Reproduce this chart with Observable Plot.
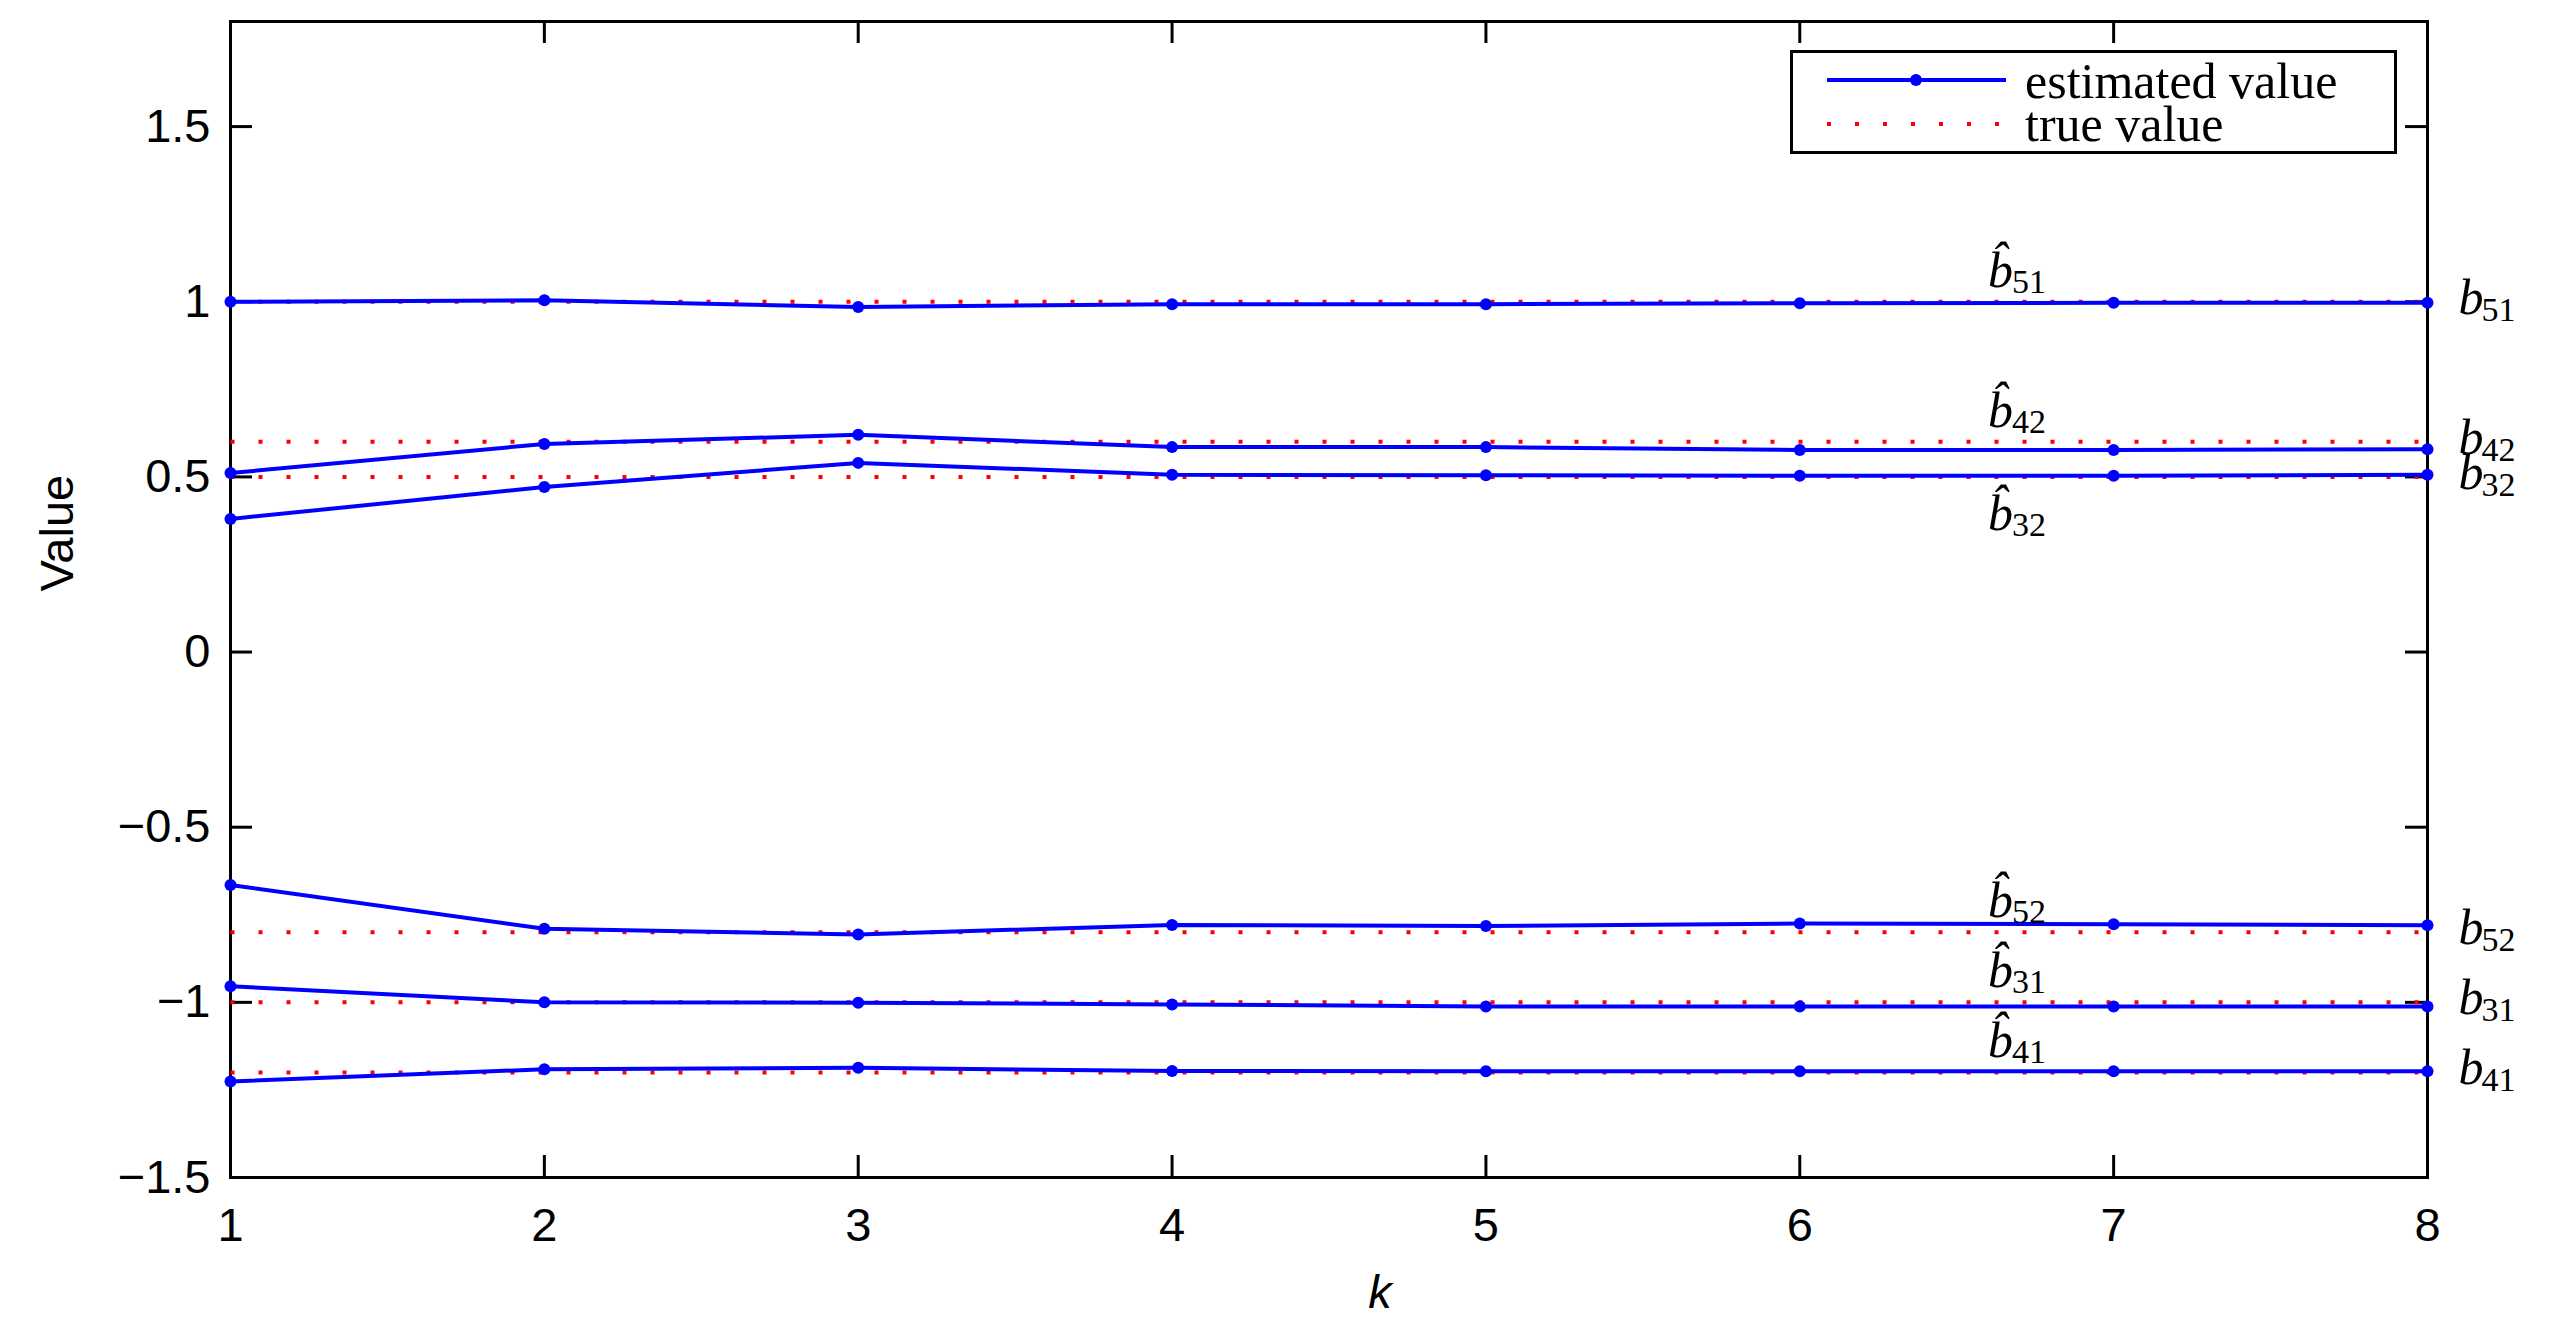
<!DOCTYPE html>
<html><head><meta charset="utf-8">
<script src="https://cdn.jsdelivr.net/npm/d3@7"></script>
<script src="https://cdn.jsdelivr.net/npm/@observablehq/plot@0.6"></script>
<style>
body{margin:0;background:#fff;}
#wrap{position:relative;width:2552px;height:1331px;background:#fff;}
#legend{position:absolute;left:1790px;top:50px;}
</style></head><body><div id="wrap"></div>
<script>
// ---- data ----
const k = [1, 2, 3, 4, 5, 6, 7, 8];
const seriesNames = ["51", "42", "32", "52", "31", "41"];
const trueValues = [1, 0.6, 0.5, -0.8, -1, -1.2];
const est51 = [1.000, 1.004, 0.985, 0.993, 0.993, 0.996, 0.997, 0.997];
const est42 = [0.511, 0.594, 0.620, 0.585, 0.585, 0.577, 0.577, 0.579];
const est32 = [0.380, 0.471, 0.540, 0.506, 0.505, 0.503, 0.503, 0.506];
const est52 = [-0.665, -0.790, -0.806, -0.779, -0.782, -0.775, -0.777, -0.780];
const est31 = [-0.954, -1.000, -1.001, -1.006, -1.012, -1.012, -1.012, -1.012];
const est41 = [-1.226, -1.191, -1.187, -1.196, -1.197, -1.197, -1.197, -1.197];
const estimates = [est51, est42, est32, est52, est31, est41];
const xTicks = [1, 2, 3, 4, 5, 6, 7, 8];
const yTicks = [-1.5, -1, -0.5, 0, 0.5, 1, 1.5];
const yTickLabels = ["\u22121.5", "\u22121", "\u22120.5", "0", "0.5", "1", "1.5"];
const legendLabels = ["estimated value", "true value"];
const xLabel = "k";
const yLabel = "Value";
const hatBelow = ["32"];
const hatK = 6.6;

// ---- tables ----
const estRows = seriesNames.flatMap((n, i) => k.map((kk, j) => ({name: n, k: kk, v: estimates[i][j]})));
const trueRows = seriesNames.flatMap((n, i) => [k[0], k[k.length - 1]].map(kk => ({name: n, k: kk, v: trueValues[i]})));
const labelRows = seriesNames.map((n, i) => ({name: n, v: trueValues[i]}));
const yLabelMap = new Map(yTicks.map((t, i) => [t, yTickLabels[i]]));

const W = 2552, H = 1331, mL = 230, mR = 125, mT = 21, mB = 154;
const fw = W - mL - mR, fh = H - mT - mB, tick = 22;
const sans = "'Liberation Sans', Arial, sans-serif";
const serif = "'Liberation Serif', 'Times New Roman', serif";
const blue = "#0000ff", red = "#ff0000";
const isBelow = d => hatBelow.includes(d.name);

const chart = Plot.plot({
  width: W, height: H,
  marginLeft: mL, marginRight: mR, marginTop: mT, marginBottom: mB,
  style: {fontFamily: sans, fontSize: "47px", background: "#fff", overflow: "visible"},
  x: {domain: [k[0], k[k.length - 1]]},
  y: {domain: [-1.5, 1.8]},
  marks: [
    Plot.axisX(xTicks, {tickSize: 0, tickPadding: 30, fontSize: 47, fontFamily: sans, label: null, tickFormat: d => String(d), fill: "black"}),
    Plot.axisY(yTicks, {tickSize: 0, tickPadding: 20, fontSize: 47, fontFamily: sans, label: null, tickFormat: d => yLabelMap.get(d), fill: "black"}),
    Plot.ruleX(xTicks, {x: d => d, stroke: "black", strokeWidth: 3, insetTop: fh - tick}),
    Plot.ruleX(xTicks, {x: d => d, stroke: "black", strokeWidth: 3, insetBottom: fh - tick}),
    Plot.ruleY(yTicks, {y: d => d, stroke: "black", strokeWidth: 3, insetRight: fw - tick}),
    Plot.ruleY(yTicks, {y: d => d, stroke: "black", strokeWidth: 3, insetLeft: fw - tick}),
    Plot.frame({stroke: "black", strokeWidth: 3}),
    Plot.line(trueRows, {x: "k", y: "v", z: "name", stroke: red, strokeWidth: 4, strokeDasharray: "4,24", strokeLinecap: "butt"}),
    Plot.line(estRows, {x: "k", y: "v", z: "name", stroke: blue, strokeWidth: 4}),
    Plot.dot(estRows, {x: "k", y: "v", r: 6, fill: blue, stroke: "none"}),
    // right labels b_ij
    Plot.text(labelRows, {x: k[k.length - 1], y: "v", text: () => "b", fontFamily: serif, fontStyle: "italic", fontSize: 50, textAnchor: "start", lineAnchor: "bottom", dx: 31, dy: 12, fill: "black"}),
    Plot.text(labelRows, {x: k[k.length - 1], y: "v", text: "name", fontFamily: serif, fontSize: 34, textAnchor: "start", lineAnchor: "bottom", dx: 54, dy: 19, fill: "black"}),
    // hat labels above (b with combining circumflex)
    Plot.text(labelRows, {filter: d => !isBelow(d), x: hatK, y: "v", text: () => "b\u0302", fontFamily: serif, fontStyle: "italic", fontSize: 50, textAnchor: "start", lineAnchor: "bottom", dx: 0, dy: -15, fill: "black"}),
    Plot.text(labelRows, {filter: d => !isBelow(d), x: hatK, y: "v", text: "name", fontFamily: serif, fontSize: 34, textAnchor: "start", lineAnchor: "bottom", dx: 24, dy: -9, fill: "black"}),
    // hat labels below
    Plot.text(labelRows, {filter: isBelow, x: hatK, y: "v", text: () => "b\u0302", fontFamily: serif, fontStyle: "italic", fontSize: 50, textAnchor: "start", lineAnchor: "bottom", dx: 0, dy: 53, fill: "black"}),
    Plot.text(labelRows, {filter: isBelow, x: hatK, y: "v", text: "name", fontFamily: serif, fontSize: 34, textAnchor: "start", lineAnchor: "bottom", dx: 24, dy: 59, fill: "black"}),
    // axis titles
    Plot.text([xLabel], {frameAnchor: "bottom", text: d => d, dx: 51, dy: 130, lineAnchor: "bottom", fontFamily: sans, fontStyle: "italic", fontSize: 47, fill: "black"}),
    Plot.text([yLabel], {frameAnchor: "left", text: d => d, rotate: -90, dx: -173, dy: -8, lineAnchor: "middle", fontFamily: sans, fontSize: 47, fill: "black"})
  ]
});
const wrap = document.getElementById("wrap");
wrap.appendChild(chart);

// ---- legend (overlay inside the plot box) ----
const lw = 607, lh = 104;
const lg = d3.select(wrap).append("svg").attr("id", "legend").attr("width", lw).attr("height", lh);
lg.append("rect").attr("x", 1.5).attr("y", 1.5).attr("width", lw - 3).attr("height", lh - 3)
  .attr("fill", "#fff").attr("stroke", "black").attr("stroke-width", 3);
lg.append("line").attr("x1", 37).attr("x2", 216).attr("y1", 30).attr("y2", 30)
  .attr("stroke", blue).attr("stroke-width", 4);
lg.append("circle").attr("cx", 126).attr("cy", 30).attr("r", 6).attr("fill", blue);
lg.append("line").attr("x1", 37).attr("x2", 216).attr("y1", 74).attr("y2", 74)
  .attr("stroke", red).attr("stroke-width", 4).attr("stroke-dasharray", "4,24");
lg.selectAll("text.lab").data(legendLabels).join("text").attr("class", "lab")
  .attr("x", 235).attr("y", (d, i) => 48 + i * 43)
  .attr("font-family", serif).attr("font-size", 50).attr("fill", "black").text(d => d);
</script></body></html>
